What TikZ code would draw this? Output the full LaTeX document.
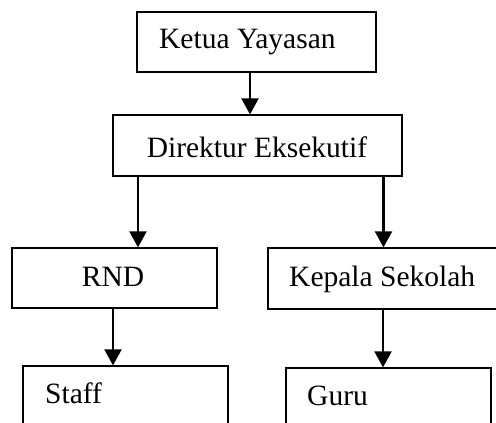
\documentclass[tikz,border=0pt]{standalone}
\usepackage{fontspec}
\setmainfont{Liberation Serif}
\usetikzlibrary{arrows.meta}
\begin{document}
\begin{tikzpicture}[x=1pt,y=-1pt,
  box/.style={draw,line width=1.3pt,inner sep=0pt,rectangle},
  lbl/.style={font=\fontsize{29.5}{32}\selectfont,inner sep=0pt},
  arr/.style={line width=2.2pt,-{Triangle[length=16pt,width=17pt]}}]
\clip (0,0) rectangle (496,423);
\node[box,minimum width=239pt,minimum height=60pt] (ketua) at (256.5,42) {};
\node[box,minimum width=289pt,minimum height=61pt] (dir) at (257.5,145.5) {};
\node[box,minimum width=205pt,minimum height=60pt] (rnd) at (114.5,278) {};
\node[box,minimum width=242pt,minimum height=61pt] (kepala) at (389,278.5) {};
\node[box,minimum width=205pt,minimum height=114pt] (staff) at (125.5,423) {};
\node[box,minimum width=205pt,minimum height=112pt] (guru) at (388.5,424) {};
\node[lbl,anchor=base west] (tketua) at (159,48) {Ketua Yayasan};
\node[lbl,anchor=base] (tdir) at (257,157) {Direktur Eksekutif};
\node[lbl,anchor=base] (trnd) at (113,286) {RND};
\node[lbl,anchor=base west] (tkepala) at (289,286) {Kepala Sekolah};
\node[lbl,anchor=base west] (tstaff) at (45,403) {Staff};
\node[lbl,anchor=base west] (tguru) at (307,405) {Guru};
\draw[arr] ([xshift=-6.5pt]ketua.south) -- ([xshift=-6.5pt]ketua.south |- dir.north);
\draw[arr] ([xshift=-119.5pt]dir.south) -- ([xshift=-119.5pt]dir.south |- rnd.north);
\draw[arr] ([xshift=126pt]dir.south) -- ([xshift=126pt]dir.south |- kepala.north);
\draw[arr] ([xshift=-1.5pt]rnd.south) -- ([xshift=-1.5pt]rnd.south |- staff.north);
\draw[arr] ([xshift=-6pt]kepala.south) -- ([xshift=-6pt]kepala.south |- guru.north);
\end{tikzpicture}
\end{document}
